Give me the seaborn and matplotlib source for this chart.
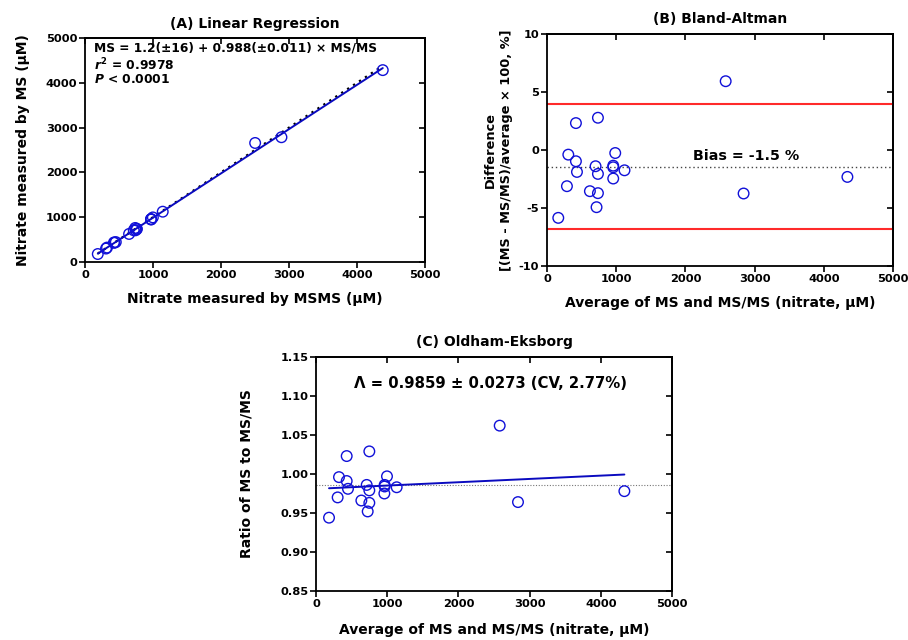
import numpy as np
import pandas as pd
import matplotlib
matplotlib.use("Agg")
import matplotlib.pyplot as plt
import seaborn as sns

# ---------------- data ----------------
# Panel A: nitrate by MS/MS (x) vs by MS (y), µM
msms_a = [188, 309, 324, 426, 433, 453, 648, 717, 744, 738, 757, 763,
          971, 972, 972, 998, 1143, 2502, 2889, 4379]
ms_a = [178, 300, 322, 436, 429, 445, 626, 707, 708, 760, 741, 735,
        957, 956, 948, 995, 1123, 2657, 2785, 4283]

# Panel B: Bland-Altman (average, % difference)
avg_b = [163, 288, 308, 418, 418, 433, 620, 702, 716, 736, 736, 736,
         957, 957, 957, 986, 1120, 2582, 2841, 4341]
diff_b = [-5.85, -3.12, -0.40, 2.32, -0.97, -1.89, -3.55, -1.40, -4.93, 2.78,
          -2.06, -3.72, -1.35, -1.49, -2.46, -0.26, -1.75, 5.93, -3.75, -2.32]
bias_b = -1.5
loa_upper = 3.95
loa_lower = -6.82

# Panel C: Oldham-Eksborg (average, ratio MS / MS/MS)
avg_c = [183, 304, 323, 431, 431, 449, 637, 712, 726, 749, 749, 749,
         964, 964, 960, 997, 1133, 2580, 2837, 4331]
ratio_c = [0.944, 0.970, 0.996, 1.023, 0.991, 0.981, 0.966, 0.986, 0.952, 1.029,
           0.979, 0.963, 0.986, 0.984, 0.975, 0.997, 0.983, 1.062, 0.964, 0.978]
mean_ratio = 0.9859

x_ticks = [0, 1000, 2000, 3000, 4000, 5000]
ya_ticks = [0, 1000, 2000, 3000, 4000, 5000]
yb_ticks = [-10, -5, 0, 5, 10]
yc_ticks = [0.85, 0.90, 0.95, 1.00, 1.05, 1.10, 1.15]

# ---------------- style ----------------
sns.set_theme(style="ticks")
plt.rcParams["font.family"] = ["DejaVu Sans"]
plt.rcParams["font.weight"] = "bold"
plt.rcParams["axes.labelweight"] = "bold"
plt.rcParams["axes.titleweight"] = "bold"
plt.rcParams["text.color"] = "black"
plt.rcParams["axes.labelcolor"] = "black"
plt.rcParams["axes.edgecolor"] = "black"
plt.rcParams["xtick.color"] = "black"
plt.rcParams["ytick.color"] = "black"
plt.rcParams["mathtext.fontset"] = "custom"
plt.rcParams["mathtext.rm"] = "DejaVu Sans:bold"
plt.rcParams["mathtext.it"] = "DejaVu Sans:bold:italic"
plt.rcParams["mathtext.bf"] = "DejaVu Sans:bold"

BLUE = "#1010D8"
LINEBLUE = "#0A0ABF"
RED = "#FF2A2A"
LAB = 10
TICK = 8.2

fig = plt.figure(figsize=(9.08, 6.40), dpi=100)
axA = fig.add_axes([85 / 908, 1 - 262 / 640, 340 / 908, 224 / 640])
axB = fig.add_axes([547 / 908, 1 - 266 / 640, 346 / 908, 232 / 640])
axC = fig.add_axes([316 / 908, 1 - 591 / 640, 356 / 908, 234 / 640])


def style_axes(ax, yticks, yfmt):
    ax.set_xlim(0, 5000)
    ax.set_ylim(yticks[0], yticks[-1])
    ax.set_xticks(x_ticks)
    ax.set_yticks(yticks)
    ax.set_yticklabels([yfmt.format(v) for v in yticks])
    for s in ax.spines.values():
        s.set_visible(True)
        s.set_linewidth(1.3)
        s.set_color("black")
    ax.tick_params(axis="both", direction="out", length=4, width=1.2,
                   labelsize=TICK, pad=1.5, colors="black")
    for lab in ax.get_xticklabels() + ax.get_yticklabels():
        lab.set_fontweight("bold")
    sx = ax.secondary_xaxis("top")
    sx.set_xticks(x_ticks)
    sx.tick_params(direction="in", length=4, width=1.2, labeltop=False)
    sx.spines["top"].set_linewidth(1.3)
    sy = ax.secondary_yaxis("right")
    sy.set_yticks(yticks)
    sy.tick_params(direction="in", length=4, width=1.2, labelright=False)
    sy.spines["right"].set_linewidth(1.3)
    ax.grid(False)


def open_scatter(ax, x, y):
    sns.scatterplot(x=x, y=y, ax=ax, marker="o", s=58, color=BLUE,
                    linewidth=1.0, zorder=4, legend=False)
    coll = ax.collections[-1]
    coll.set_facecolor("none")
    coll.set_edgecolor(BLUE)


# ---------------- Panel A ----------------
dfa = pd.DataFrame({"msms": msms_a, "ms": ms_a})
ident = pd.DataFrame({"x": [dfa.msms.min(), dfa.msms.max()],
                      "y": [dfa.msms.min(), dfa.msms.max()]})
sns.lineplot(data=ident, x="x", y="y", ax=axA, color="black",
             linestyle=(0, (1, 2.2)), linewidth=1.6, zorder=2)
sns.regplot(data=dfa, x="msms", y="ms", ax=axA, scatter=False, ci=None,
            truncate=True, line_kws=dict(color=LINEBLUE, linewidth=1.4, zorder=3))
open_scatter(axA, msms_a, ms_a)
style_axes(axA, ya_ticks, "{:d}")
axA.set_title("(A) Linear Regression", fontsize=LAB, pad=7)
axA.set_xlabel("Nitrate measured by MSMS (µM)", fontsize=LAB, labelpad=9)
axA.set_ylabel("Nitrate measured by MS (µM)", fontsize=LAB, labelpad=11)
axA.text(0.025, 0.955, "MS = 1.2(±16) + 0.988(±0.011) × MS/MS",
         transform=axA.transAxes, fontsize=8.8, ha="left", va="center")
axA.text(0.025, 0.88, r"$r^2$ = 0.9978", transform=axA.transAxes,
         fontsize=8.8, ha="left", va="center")
axA.text(0.025, 0.815, r"$P$ < 0.0001", transform=axA.transAxes,
         fontsize=8.8, ha="left", va="center")

# ---------------- Panel B ----------------
axB.axhline(loa_upper, color=RED, linewidth=1.5, zorder=2)
axB.axhline(loa_lower, color=RED, linewidth=1.5, zorder=2)
axB.axhline(bias_b, color="#444444", linestyle=(0, (1, 2)), linewidth=1.0, zorder=2)
open_scatter(axB, avg_b, diff_b)
style_axes(axB, yb_ticks, "{:d}")
axB.set_title("(B) Bland-Altman", fontsize=LAB, pad=8)
axB.set_xlabel("Average of MS and MS/MS (nitrate, µM)", fontsize=LAB, labelpad=9)
axB.set_ylabel("Difference\n[(MS - MS/MS)/average × 100, %]", fontsize=9.3,
               labelpad=4, linespacing=1.3)
axB.text(2880, bias_b + 0.95, f"Bias = {bias_b} %", fontsize=10.3,
         ha="center", va="center")

# ---------------- Panel C ----------------
axC.axhline(mean_ratio, color="#777777", linestyle=(0, (1, 1.5)),
            linewidth=0.8, zorder=2)
dfc = pd.DataFrame({"avg": avg_c, "ratio": ratio_c})
sns.regplot(data=dfc, x="avg", y="ratio", ax=axC, scatter=False, ci=None,
            truncate=True, line_kws=dict(color=LINEBLUE, linewidth=1.4, zorder=3))
open_scatter(axC, avg_c, ratio_c)
style_axes(axC, yc_ticks, "{:.2f}")
axC.set_title("(C) Oldham-Eksborg", fontsize=LAB, pad=8)
axC.set_xlabel("Average of MS and MS/MS (nitrate, µM)", fontsize=LAB, labelpad=10)
axC.set_ylabel("Ratio of MS to MS/MS", fontsize=LAB, labelpad=19)
axC.text(0.49, 0.885, f"Λ = {mean_ratio} ± 0.0273 (CV, 2.77%)",
         transform=axC.transAxes, fontsize=10.7, ha="center", va="center")

fig.savefig("out.png", dpi=100)
